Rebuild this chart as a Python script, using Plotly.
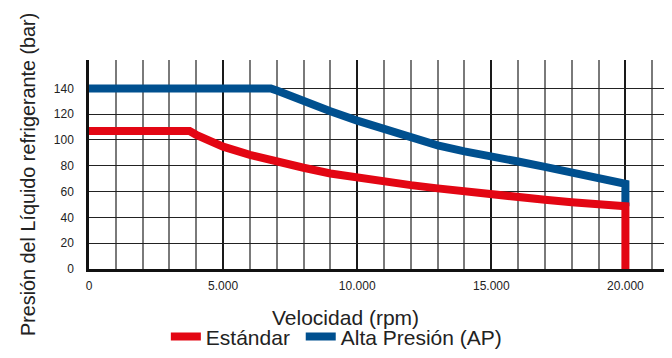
import plotly.graph_objects as go

# Velocidad (rpm) / presión (bar)
std_rpm = [0, 3750, 4000, 4500, 5000, 6000, 7000, 8000, 9000, 10000, 11000, 12000, 13000, 14000,
           15000, 16000, 17000, 18000, 19000, 20000, 20000]
std_bar = [107, 107, 104, 99, 94.8, 88.5, 83, 78.5, 74, 70.6, 67.5, 65, 62.5, 60,
           57.5, 55.6, 53.6, 51.8, 50, 48.6, 0]

ap_rpm = [0, 6780, 7000, 8000, 9000, 10000, 11000, 12000, 13000, 14000, 15000,
          16000, 17000, 18000, 19000, 20000, 20000]
ap_bar = [140, 140, 138.3, 129.8, 122.2, 115, 108.6, 101.8, 95.8, 91.2, 87.8,
          83.3, 79.1, 74.6, 70.4, 66, 48.6]

x_ticks = [0, 5000, 10000, 15000, 20000]
x_labels = ["0", "5.000", "10.000", "15.000", "20.000"]
y_ticks = [0, 20, 40, 60, 80, 100, 120, 140]

RED = "#E30613"
BLUE = "#00508F"
FONT = "Liberation Sans, Arial, sans-serif"

fig = go.Figure()
fig.add_trace(go.Scatter(x=ap_rpm, y=ap_bar, mode="lines", name="Alta Presión (AP)",
                         line=dict(color=BLUE, width=8)))
fig.add_trace(go.Scatter(x=std_rpm, y=std_bar, mode="lines", name="Estándar\u00a0",
                         line=dict(color=RED, width=8)))

fig.update_layout(
    width=672, height=358,
    margin=dict(l=81, r=9, t=52, b=88),
    plot_bgcolor="white", paper_bgcolor="white",
    font=dict(family=FONT, color="#222"),
    showlegend=True,
    legend=dict(orientation="h", x=0.425, xanchor="center", y=-0.325, yanchor="middle",
                font=dict(size=21), traceorder="reversed", itemwidth=30),
)

fig.update_xaxes(
    range=[0, 21700],
    tickvals=x_ticks, ticktext=x_labels, tickfont=dict(size=12),
    ticklabelstandoff=4,
    showgrid=True, gridcolor="#1a1a1a", gridwidth=2,
    minor=dict(dtick=1000, tick0=0, showgrid=True, gridcolor="#7a7a7a", gridwidth=1.5),
    showline=True, linecolor="#111", linewidth=2.5,
    zeroline=False,
)
fig.update_yaxes(
    range=[0, 162],
    tickvals=y_ticks, tickfont=dict(size=12),
    ticklabelstandoff=10,
    showgrid=True, gridcolor="#222", gridwidth=1.2,
    showline=True, linecolor="#111", linewidth=2.5,
    zeroline=False,
)

fig.add_annotation(text="Presión del Líquido refrigerante (bar)", xref="paper", yref="paper",
                   x=-0.105, y=0.454, xanchor="center", yanchor="middle", textangle=-90,
                   showarrow=False, font=dict(size=19.8))
fig.add_annotation(text="Velocidad (rpm)", xref="paper", yref="paper", x=0.44, y=-0.232,
                   xanchor="center", yanchor="middle", showarrow=False, font=dict(size=21))

fig.write_html("out.html")
